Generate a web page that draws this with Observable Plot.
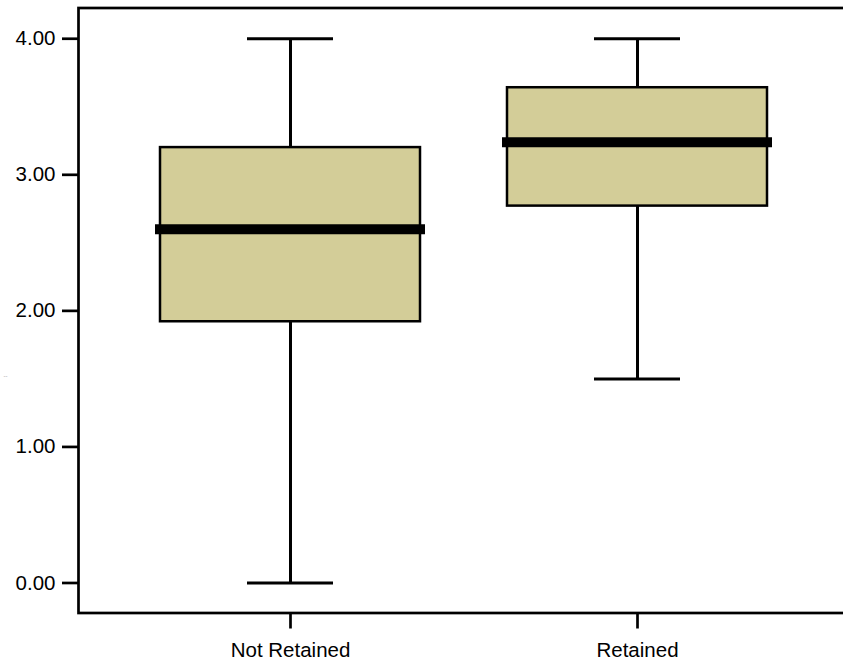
<!DOCTYPE html>
<html>
<head>
<meta charset="utf-8">
<script src="https://cdn.jsdelivr.net/npm/d3@7"></script>
<script src="https://cdn.jsdelivr.net/npm/@observablehq/plot@0.6"></script>
<style>
  html, body { margin: 0; padding: 0; background: #fff; overflow: hidden; }
  #chart { position: relative; width: 843px; height: 661px; }
</style>
</head>
<body>
<div id="chart"></div>
<script>
// Five-number summaries per group
const groups  = ["Not Retained", "Retained"];
const minimum = [0.00, 1.50];
const q1      = [1.92, 2.77];
const median  = [2.60, 3.24];
const q3      = [3.20, 3.64];
const maximum = [4.00, 4.00];
const yTicks  = [0, 1, 2, 3, 4];

const rows = groups.map((g, i) => ({
  group: g, min: minimum[i], q1: q1[i], median: median[i], q3: q3[i], max: maximum[i]
}));

const boxFill = "#d3cd98";

const chart = Plot.plot({
  width: 843,
  height: 661,
  marginLeft: 78,
  marginTop: 7.5,
  marginBottom: 48.5,
  marginRight: -6,
  style: {
    fontFamily: "'Liberation Sans', Arial, sans-serif",
    fontSize: "20.5px",
    color: "black",
    background: "white"
  },
  x: {
    type: "band",
    domain: groups,
    range: [116.5, 810.5],
    paddingInner: 0.25,
    paddingOuter: 0.125,
    align: 0.5
  },
  y: {
    domain: [-0.2206, 4.226]
  },
  marks: [
    Plot.frame({stroke: "black", strokeWidth: 2.7}),
    // whiskers
    Plot.ruleX(rows, {x: "group", y1: "min", y2: "q1", stroke: "black", strokeWidth: 3}),
    Plot.ruleX(rows, {x: "group", y1: "q3", y2: "max", stroke: "black", strokeWidth: 3}),
    // whisker caps
    Plot.tickY(rows, {x: "group", y: "min", stroke: "black", strokeWidth: 3, insetLeft: 87, insetRight: 87}),
    Plot.tickY(rows, {x: "group", y: "max", stroke: "black", strokeWidth: 3, insetLeft: 87, insetRight: 87}),
    // boxes
    Plot.barY(rows, {x: "group", y1: "q1", y2: "q3", fill: boxFill, stroke: "black", strokeWidth: 2.5}),
    // medians
    Plot.tickY(rows, {x: "group", y: "median", stroke: "black", strokeWidth: 10, insetLeft: -5, insetRight: -5}),
    // axes
    Plot.axisY({
      ticks: yTicks,
      tickFormat: d3.format(".2f"),
      tickSize: 16,
      tickPadding: 7,
      strokeWidth: 2.7,
      label: null
    }),
    Plot.axisX({
      tickSize: 16,
      tickPadding: 13,
      strokeWidth: 2.7,
      label: null
    }),
    // collapsed y-axis title
    Plot.text(["--"], {
      frameAnchor: "left", textAnchor: "start",
      dx: -75, dy: 66, fontSize: 6, fill: "#999"
    })
  ]
});

document.getElementById("chart").appendChild(chart);
</script>
</body>
</html>
